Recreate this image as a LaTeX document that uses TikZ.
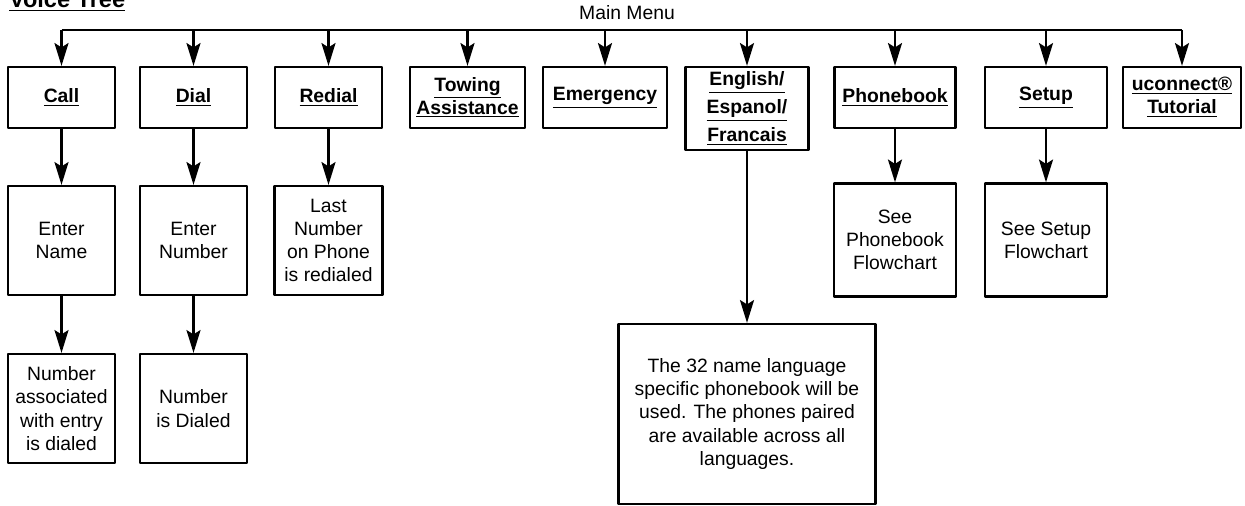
\documentclass[tikz,border=0pt]{standalone}
\usepackage{fontspec}
\setmainfont{Liberation Sans}
\usetikzlibrary{arrows.meta}

\tikzset{
  menu/.style={draw, line width=1.3pt, align=center, inner sep=2pt,
    font=\bfseries\fontsize{11}{13}\selectfont},
  info/.style={draw, line width=1.3pt, align=center, inner sep=2pt,
    font=\fontsize{11}{13.2}\selectfont},
}

\begin{document}
\begin{tikzpicture}[x=0.02cm, y=-0.02cm, line join=round, line width=1.2pt,
    >={Stealth[length=13pt,width=8pt,inset=2.5pt]}]
  \useasboundingbox (0,0) rectangle (1245,506);
  \node[anchor=base west, inner sep=0pt, font=\bfseries\fontsize{13.4}{16}\selectfont] (title) at (8,8) {\underline{Voice Tree}};
  \node[anchor=base, inner sep=0pt, font=\fontsize{11}{13}\selectfont] (mainmenu) at (627,20) {Main Menu};
  \coordinate (bus) at (0,30);

  % first level
  \node[menu, minimum width=2.14cm, minimum height=1.22cm] (call) at (61.5,97.5) {\underline{Call}};
  \node[menu, minimum width=2.14cm, minimum height=1.22cm] (dial) at (193.5,97.5) {\underline{Dial}};
  \node[menu, minimum width=2.14cm, minimum height=1.22cm] (redial) at (328.5,97.5) {\underline{Redial}};
  \node[menu, minimum width=2.30cm, minimum height=1.22cm] (towing) at (467.5,97.5) {\underline{Towing}\\\underline{Assistance}};
  \node[menu, minimum width=2.48cm, minimum height=1.22cm] (emergency) at (605,97.5) {\underline{Emergency}};
  \node[menu, minimum width=2.46cm, minimum height=1.66cm] (language) at (747,108.5) {\underline{English/}\\[3pt]\underline{Espanol/}\\[3pt]\underline{Francais}};
  \node[menu, minimum width=2.42cm, minimum height=1.22cm] (phonebook) at (895,97.5) {\underline{Phonebook}};
  \node[menu, minimum width=2.44cm, minimum height=1.22cm] (setup) at (1046,97.5) {\underline{Setup}};
  \node[menu, minimum width=2.36cm, minimum height=1.22cm] (tutorial) at (1182,97.5) {\underline{uconnect®}\\\underline{Tutorial}};

  % second level
  \node[info, minimum width=2.14cm, minimum height=2.18cm] (entername) at (61.5,240.5) {Enter\\Name};
  \node[info, minimum width=2.14cm, minimum height=2.18cm] (enternumber) at (193.5,240.5) {Enter\\Number};
  \node[info, minimum width=2.16cm, minimum height=2.18cm] (lastnumber) at (328.5,240.5) {Last\\Number\\on Phone\\is redialed};
  \node[info, minimum width=2.44cm, minimum height=2.26cm] (seephonebook) at (895,240) {See\\Phonebook\\Flowchart};
  \node[info, minimum width=2.44cm, minimum height=2.26cm] (seesetup) at (1046,240) {See Setup\\Flowchart};
  \node[info, minimum width=5.14cm, minimum height=3.6cm] (phonebooknote) at (747,414) {The 32 name language\\specific phonebook will be\\used. The phones paired\\are available across all\\languages.};

  % third level
  \node[info, minimum width=2.14cm, minimum height=2.18cm] (namedialed) at (61.5,408.5) {Number\\associated\\with entry\\is dialed};
  \node[info, minimum width=2.14cm, minimum height=2.18cm] (numberdialed) at (193.5,408.5) {Number\\is Dialed};

  % main menu bus
  \draw (bus -| call) -- (bus -| tutorial);
  \foreach \m in {call,dial,redial,towing,emergency,language,phonebook,setup,tutorial}
    \draw[->] (bus -| \m) -- (\m);

  \draw[->] (call) -- (entername);
  \draw[->] (entername) -- (namedialed);
  \draw[->] (dial) -- (enternumber);
  \draw[->] (enternumber) -- (numberdialed);
  \draw[->] (redial) -- (lastnumber);
  \draw[->] (language) -- (phonebooknote);
  \draw[->] (phonebook) -- (seephonebook);
  \draw[->] (setup) -- (seesetup);
\end{tikzpicture}
\end{document}
